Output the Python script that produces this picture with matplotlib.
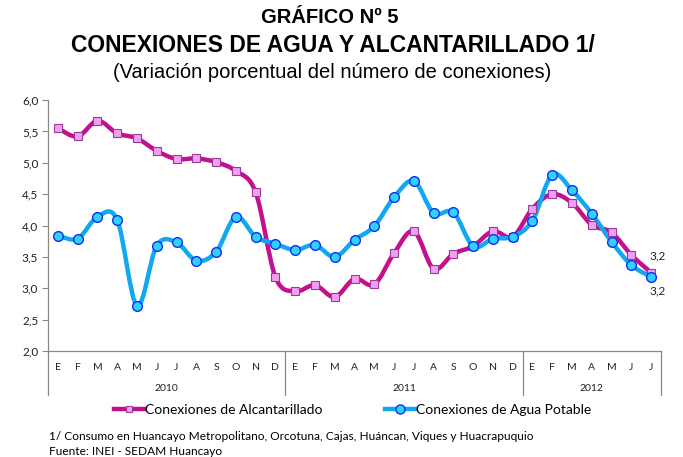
import matplotlib
matplotlib.use('Agg')
import matplotlib.pyplot as plt
import numpy as np
from matplotlib.path import Path
from matplotlib.patches import PathPatch
from matplotlib.lines import Line2D
import matplotlib.transforms as mtransforms

months = ['E', 'F', 'M', 'A', 'M', 'J', 'J', 'A', 'S', 'O', 'N', 'D'] * 2 + ['E', 'F', 'M', 'A', 'M', 'J', 'J']
years = ['2010', '2011', '2012']
year_len = [12, 12, 7]

alcantarillado = [5.55, 5.42, 5.67, 5.47, 5.39, 5.19, 5.06, 5.07, 5.01, 4.87, 4.53, 3.18,
                  2.95, 3.05, 2.86, 3.15, 3.06, 3.56, 3.91, 3.31, 3.55, 3.67, 3.91, 3.82,
                  4.27, 4.50, 4.36, 4.01, 3.89, 3.53, 3.25]
agua = [3.84, 3.79, 4.14, 4.09, 2.72, 3.68, 3.73, 3.44, 3.58, 4.14, 3.82, 3.71,
        3.61, 3.69, 3.50, 3.77, 3.99, 4.45, 4.71, 4.20, 4.21, 3.67, 3.79, 3.82,
        4.08, 4.81, 4.56, 4.19, 3.74, 3.37, 3.18]

mag = '#C4108E'
blue = '#10A8F0'

label_font = 'Lato'


def smooth_path(x, y):
    # bezier curve through the points, like excel's smoothed line
    pts = np.column_stack([x, y])
    verts = [pts[0]]
    codes = [Path.MOVETO]
    n = len(pts)
    for i in range(n - 1):
        p0 = pts[max(i - 1, 0)]
        p1 = pts[i]
        p2 = pts[i + 1]
        p3 = pts[min(i + 2, n - 1)]
        verts += [p1 + (p2 - p0) / 6, p2 - (p3 - p1) / 6, p2]
        codes += [Path.CURVE4] * 3
    return Path(verts, codes)


fig = plt.figure(figsize=(6.83, 4.57), dpi=100)
ax = fig.add_axes([0.0703, 0.232, 0.8975, 0.549])

x = np.arange(len(months))

ax.add_patch(PathPatch(smooth_path(x, alcantarillado), fill=False, edgecolor=mag, lw=3.2,
                       capstyle='round', joinstyle='round', zorder=2))
ax.add_patch(PathPatch(smooth_path(x, agua), fill=False, edgecolor=blue, lw=3.2,
                       capstyle='round', joinstyle='round', zorder=3))
ax.plot(x, alcantarillado, ls='none', marker='s', ms=5.5, mfc='#F0A0F0', mec='#9A3A9A', mew=0.8, zorder=4)
ax.plot(x, agua, ls='none', marker='o', ms=7, mfc='#30D0FF', mec='#1030F0', mew=1.0, zorder=5)

ax.set_xlim(-0.5, len(months) - 0.5)
ax.set_ylim(2.0, 6.0)
ax.set_yticks(np.arange(2.0, 6.01, 0.5))
ax.set_yticklabels([('%.1f' % v).replace('.', ',') for v in np.arange(2.0, 6.01, 0.5)],
                   fontsize=8.5, family=label_font, color='#222222')
ax.tick_params(axis='y', direction='out', length=4, width=0.8, color='#888888', pad=3)
ax.set_xticks([])
for s in ['top', 'right']:
    ax.spines[s].set_visible(False)
ax.spines['left'].set_color('#888888')
ax.spines['bottom'].set_color('#888888')
ax.spines['left'].set_linewidth(0.9)
ax.spines['bottom'].set_linewidth(0.9)

# category axis: months and years
trans = mtransforms.blended_transform_factory(ax.transData, ax.transAxes)
for i, m in enumerate(months):
    ax.text(i, -0.064, m, transform=trans, ha='center', va='center', fontsize=7.5,
            family=label_font, color='#222222')
start = 0
bounds = [-0.5]
for yr, n in zip(years, year_len):
    ax.text(start + (n - 1) / 2, -0.148, yr, transform=trans, ha='center', va='center',
            fontsize=7.5, family=label_font, color='#222222')
    start += n
    bounds.append(start - 0.5)
for b in bounds:
    ax.plot([b, b], [0, -0.176], transform=trans, color='#888888', lw=0.9, clip_on=False)

# end labels
ax.text(30.35, 3.52, '3,2', ha='center', va='center', fontsize=8.5, family=label_font, color='#222222')
ax.text(30.35, 2.96, '3,2', ha='center', va='center', fontsize=8.5, family=label_font, color='#222222')

# titles
fig.text(0.483, 0.962, 'GRÁFICO Nº 5', ha='center', va='center', fontsize=14.5,
         fontweight='bold', family='Liberation Sans')
fig.text(0.487, 0.900, 'CONEXIONES DE AGUA Y ALCANTARILLADO 1/', ha='center', va='center',
         fontsize=16.5, fontweight='bold', family='Liberation Sans')
fig.text(0.487, 0.842, '(Variación porcentual del número de conexiones)', ha='center', va='center',
         fontsize=14.5, family='Liberation Sans')

handles = [Line2D([], [], color=mag, lw=3.2, marker='s', ms=5, mfc='#F0A0F0', mec='#9A3A9A', mew=0.8),
           Line2D([], [], color=blue, lw=3.2, marker='o', ms=6.5, mfc='#30D0FF', mec='#1030F0', mew=1.0)]
fig.legend(handles, ['Conexiones de Alcantarillado', 'Conexiones de Agua Potable'], loc='center',
           bbox_to_anchor=(0.516, 0.103), ncol=2, frameon=False, handlelength=2.2,
           handletextpad=0.05, columnspacing=4.5, prop={'family': label_font, 'size': 10})

fig.text(0.072, 0.045, '1/ Consumo en Huancayo Metropolitano, Orcotuna, Cajas, Huáncan, Viques y Huacrapuquio',
         ha='left', va='center', fontsize=8.6, family=label_font)
fig.text(0.072, 0.012, 'Fuente: INEI - SEDAM Huancayo', ha='left', va='center', fontsize=8.6,
         family=label_font)

fig.savefig('out.png', dpi=100)
